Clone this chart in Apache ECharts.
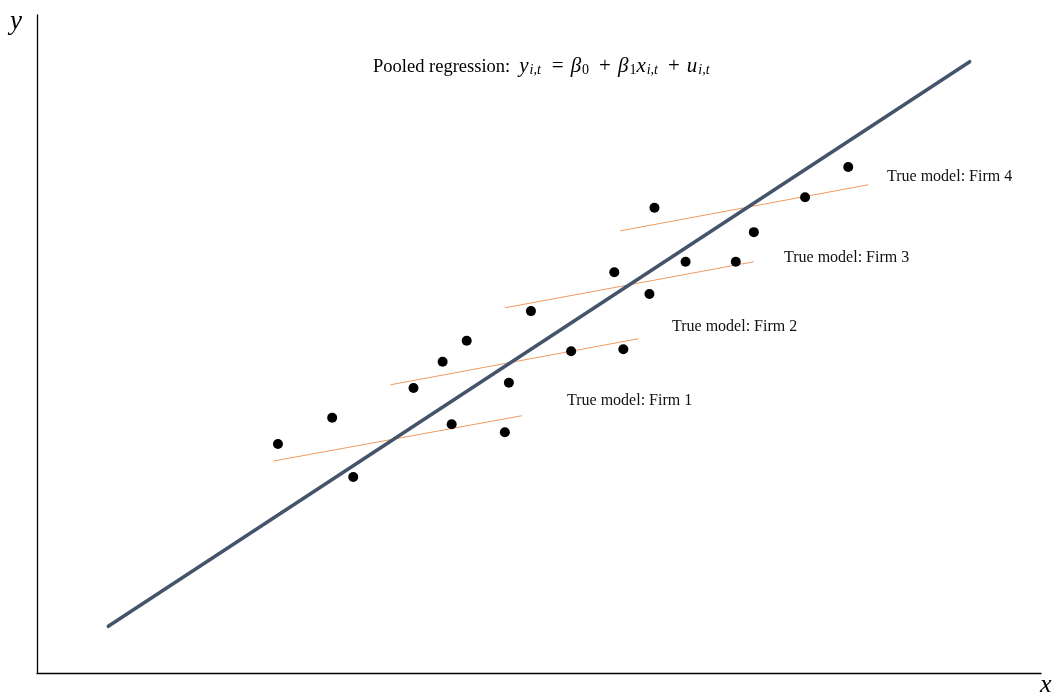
<!DOCTYPE html>
<html>
<head>
<meta charset="utf-8">
<script src="https://cdn.jsdelivr.net/npm/echarts@6/dist/echarts.min.js"></script>
<style>
  html, body { margin: 0; padding: 0; background: #fff; }
  #chart { width: 1057px; height: 698px; }
</style>
</head>
<body>
<div id="chart"></div>
<script>
// observations per firm, [x, y] on a 0-100 scale
const firm1Points = [[24.0, 34.8], [29.4, 38.8], [31.5, 29.8], [41.3, 37.8], [46.6, 36.6]];
const firm2Points = [[37.5, 43.3], [40.4, 47.3], [42.8, 50.5], [47.0, 44.1], [53.2, 48.9], [58.4, 49.2]];
const firm3Points = [[49.2, 55.0], [57.5, 60.9], [61.0, 57.6], [64.6, 62.5], [69.6, 62.5]];
const firm4Points = [[61.5, 70.7], [71.4, 67.0], [76.5, 72.3], [80.8, 76.9]];

// true model line per firm (start, end)
const firm1Line = [[23.5, 32.2], [48.3, 39.1]];
const firm2Line = [[35.2, 43.8], [59.9, 50.8]];
const firm3Line = [[46.6, 55.5], [71.4, 62.5]];
const firm4Line = [[58.1, 67.2], [82.8, 74.2]];

// pooled regression line
const pooledLine = [[7.1, 7.1], [92.9, 92.9]];

const firmLabels = ['True model: Firm 1', 'True model: Firm 2', 'True model: Firm 3', 'True model: Firm 4'];

const chart = echarts.init(document.getElementById('chart'));

const serif = '"Liberation Serif", "DejaVu Serif", serif';

const firmLine = (data) => ({
  type: 'line',
  data: data,
  symbol: 'none',
  silent: true,
  lineStyle: { color: '#F0995F', width: 1 },
  z: 2
});

const option = {
  animation: false,
  grid: { left: 37, right: 16, top: 15, bottom: 25 },
  xAxis: {
    type: 'value', min: 0, max: 100,
    axisLine: { lineStyle: { color: '#000', width: 1.3 } },
    axisTick: { show: false }, axisLabel: { show: false }, splitLine: { show: false }
  },
  yAxis: {
    type: 'value', min: 0, max: 100,
    axisLine: { show: true, lineStyle: { color: '#000', width: 1.3 } },
    axisTick: { show: false }, axisLabel: { show: false }, splitLine: { show: false }
  },
  series: [
    firmLine(firm1Line),
    firmLine(firm2Line),
    firmLine(firm3Line),
    firmLine(firm4Line),
    {
      type: 'line',
      data: pooledLine,
      symbol: 'none',
      lineStyle: { color: '#44546A', width: 3.5, cap: 'round' },
      z: 3
    },
    {
      type: 'scatter',
      data: [].concat(firm1Points, firm2Points, firm3Points, firm4Points),
      symbolSize: 10,
      itemStyle: { color: '#000', opacity: 1 },
      z: 4
    }
  ],
  graphic: [
    { type: 'text', left: 10, top: 8, style: { text: 'y', font: 'italic 27px ' + serif, fill: '#000' } },
    { type: 'text', left: 1040, top: 672, style: { text: 'x', font: 'italic 26px ' + serif, fill: '#000' } },
    {
      type: 'text', left: 373, top: 56,
      style: {
        text: '{a|Pooled regression:}{i|y}{s|i,t}{o|=}{i|β}{n|0}{p|+}{i|β}{n|1}{i|x}{s|i,t}{p|+}{i|u}{s|i,t}',
        rich: {
          a: { fontFamily: serif, fontSize: 18.5, lineHeight: 24, fill: '#000', verticalAlign: 'bottom', padding: [0, 9, 0, 0] },
          i: { fontFamily: serif, fontSize: 21, fontStyle: 'italic', lineHeight: 24, fill: '#000', verticalAlign: 'bottom' },
          s: { fontFamily: serif, fontSize: 14, fontStyle: 'italic', lineHeight: 12, fill: '#000', verticalAlign: 'bottom', padding: [0, 0, 0, 1] },
          n: { fontFamily: serif, fontSize: 14, lineHeight: 12, fill: '#000', verticalAlign: 'bottom', padding: [0, 0, 0, 1] },
          o: { fontFamily: serif, fontSize: 21, lineHeight: 24, fill: '#000', verticalAlign: 'bottom', padding: [0, 7, 0, 11] },
          p: { fontFamily: serif, fontSize: 21, lineHeight: 24, fill: '#000', verticalAlign: 'bottom', padding: [0, 7, 0, 10] }
        }
      }
    },
    { type: 'text', left: 567, top: 393, style: { text: firmLabels[0], font: '16px ' + serif, fill: '#111' } },
    { type: 'text', left: 672, top: 319, style: { text: firmLabels[1], font: '16px ' + serif, fill: '#111' } },
    { type: 'text', left: 784, top: 250, style: { text: firmLabels[2], font: '16px ' + serif, fill: '#111' } },
    { type: 'text', left: 887, top: 169, style: { text: firmLabels[3], font: '16px ' + serif, fill: '#111' } }
  ]
};

chart.setOption(option);
</script>
</body>
</html>
